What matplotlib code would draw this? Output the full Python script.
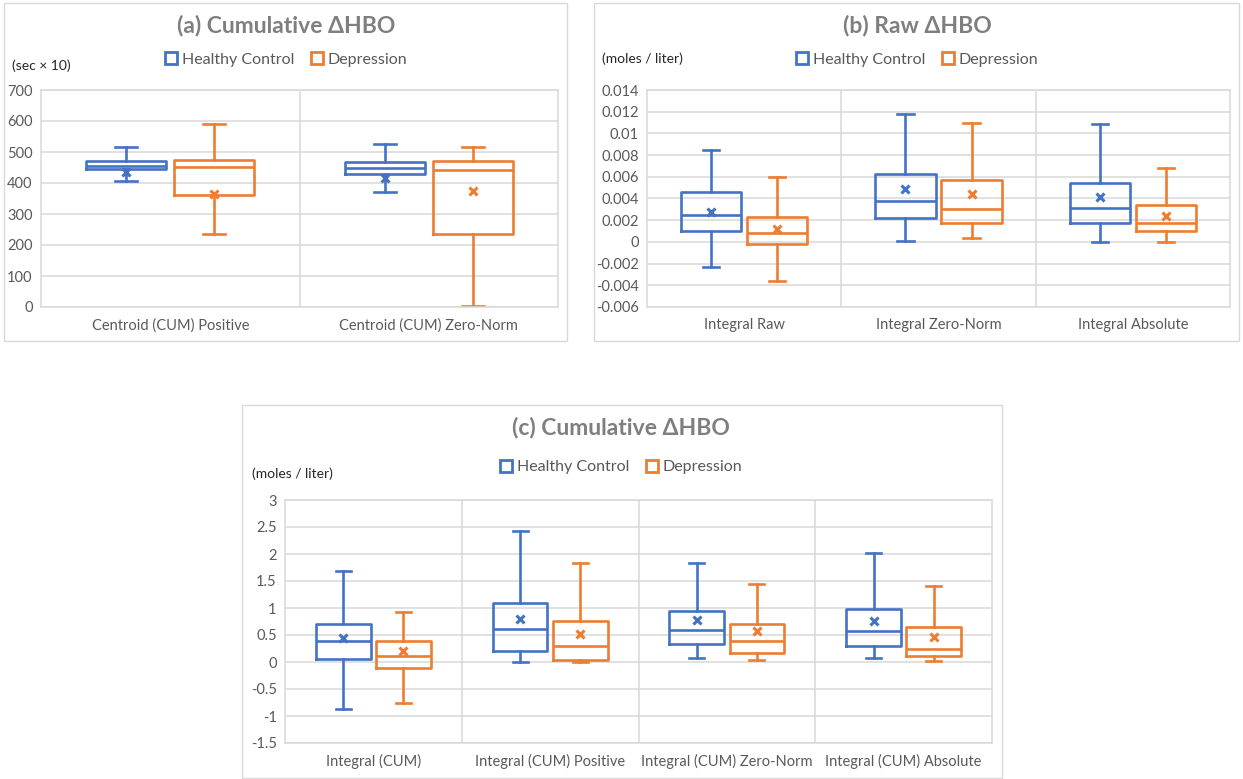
import matplotlib
matplotlib.use("Agg")
import matplotlib.pyplot as plt
from matplotlib.patches import Rectangle
from matplotlib.lines import Line2D

W, H = 1243, 779
BLUE = "#4472C4"
ORANGE = "#ED7D31"
GRID = "#D9D9D9"
TXT = "#595959"
TITLE = "#7F7F7F"

plt.rcParams['font.family'] = ['Lato', 'DejaVu Sans']

# (a) cumulative centroid, sec x 10
a_cats = ["Centroid (CUM) Positive", "Centroid (CUM) Zero-Norm"]
a_hc_low = [405, 372]
a_hc_q1 = [445, 430]
a_hc_med = [455, 450]
a_hc_q3 = [470, 467]
a_hc_high = [515, 525]
a_hc_mean = [435, 415]
a_dep_low = [237, 2]
a_dep_q1 = [360, 237]
a_dep_med = [452, 443]
a_dep_q3 = [473, 470]
a_dep_high = [590, 515]
a_dep_mean = [365, 375]
a_ticks = [0, 100, 200, 300, 400, 500, 600, 700]

# (b) raw integrals, moles / liter
b_cats = ["Integral Raw", "Integral Zero-Norm", "Integral Absolute"]
b_hc_low = [-0.0023, 0.0001, 0.0]
b_hc_q1 = [0.0010, 0.0022, 0.0017]
b_hc_med = [0.0025, 0.0038, 0.0031]
b_hc_q3 = [0.0046, 0.0063, 0.0054]
b_hc_high = [0.0085, 0.0118, 0.0109]
b_hc_mean = [0.0028, 0.0049, 0.0041]
b_dep_low = [-0.0036, 0.0004, 0.0]
b_dep_q1 = [-0.0002, 0.0017, 0.0010]
b_dep_med = [0.0008, 0.0030, 0.0017]
b_dep_q3 = [0.0023, 0.0057, 0.0034]
b_dep_high = [0.0060, 0.0110, 0.0068]
b_dep_mean = [0.0012, 0.0044, 0.0024]
b_ticks = [-0.006, -0.004, -0.002, 0, 0.002, 0.004, 0.006, 0.008, 0.01, 0.012, 0.014]

# (c) cumulative integrals, moles / liter
c_cats = ["Integral (CUM)", "Integral (CUM) Positive",
          "Integral (CUM) Zero-Norm", "Integral (CUM) Absolute"]
c_hc_low = [-0.87, 0.0, 0.07, 0.07]
c_hc_q1 = [0.06, 0.20, 0.33, 0.30]
c_hc_med = [0.38, 0.62, 0.59, 0.57]
c_hc_q3 = [0.71, 1.10, 0.94, 0.99]
c_hc_high = [1.69, 2.43, 1.84, 2.02]
c_hc_mean = [0.44, 0.80, 0.78, 0.76]
c_dep_low = [-0.75, 0.0, 0.03, 0.01]
c_dep_q1 = [-0.11, 0.04, 0.17, 0.11]
c_dep_med = [0.11, 0.29, 0.38, 0.25]
c_dep_q3 = [0.39, 0.76, 0.70, 0.65]
c_dep_high = [0.92, 1.83, 1.45, 1.41]
c_dep_mean = [0.20, 0.52, 0.57, 0.46]
c_ticks = [-1.5, -1, -0.5, 0, 0.5, 1, 1.5, 2, 2.5, 3]


def stats(low, q1, med, q3, high, mean):
    return [dict(whislo=l, q1=a, med=m, q3=b, whishi=h, mean=mu, fliers=[])
            for l, a, m, b, h, mu in zip(low, q1, med, q3, high, mean)]


def px_axes(x0, y0, x1, y1):
    return fig.add_axes([x0 / W, 1 - y1 / H, (x1 - x0) / W, (y1 - y0) / H])


def draw_box(ax, st, pos, color):
    ax.bxp(st, positions=pos, widths=0.31, capwidths=0.085, showmeans=True,
           boxprops=dict(color=color, linewidth=1.9),
           medianprops=dict(color=color, linewidth=1.9),
           whiskerprops=dict(color=color, linewidth=1.9),
           capprops=dict(color=color, linewidth=1.9),
           meanprops=dict(marker="x", markeredgecolor=color, markersize=6,
                          markeredgewidth=2.2))


def panel(ax, cats, hc, dep, ticks):
    n = len(cats)
    draw_box(ax, hc, [i - 0.17 for i in range(n)], BLUE)
    draw_box(ax, dep, [i + 0.17 for i in range(n)], ORANGE)
    ax.set_xlim(-0.5, n - 0.5)
    ax.set_ylim(ticks[0], ticks[-1])
    ax.set_yticks(ticks)
    ax.set_yticklabels([f"{t:g}" for t in ticks])
    ax.set_xticks(range(n))
    ax.set_xticklabels(cats)
    for t in ticks:
        ax.axhline(t, color=GRID, lw=1.1, zorder=0)
    for i in range(n - 1):
        ax.axvline(i + 0.5, color=GRID, lw=1.1, zorder=0)
    for s in ax.spines.values():
        s.set_color(GRID)
        s.set_linewidth(1.1)
    ax.tick_params(length=0, colors=TXT, labelsize=10.5)
    ax.tick_params(axis="x", pad=8)
    ax.tick_params(axis="y", pad=6)


def frame(x0, y0, x1, y1):
    fig.add_artist(Rectangle((x0 / W, 1 - y1 / H), (x1 - x0) / W, (y1 - y0) / H,
                             transform=fig.transFigure, fill=False,
                             edgecolor=GRID, linewidth=1.0))


def header(title, tx, ty, unit, ux, uy, ly):
    fig.text(tx / W, 1 - ty / H, title, ha="center", va="center",
             fontsize=16.5, fontweight="bold", color=TITLE)
    fig.text(ux / W, 1 - uy / H, unit, ha="left", va="center",
             fontsize=10, color="#262626")
    handles = [Line2D([], [], marker="s", ls="none", markersize=9,
                      markerfacecolor="white", markeredgecolor=c,
                      markeredgewidth=2) for c in (BLUE, ORANGE)]
    fig.legend(handles, ["Healthy Control", "Depression"], loc="center",
               bbox_to_anchor=(tx / W, 1 - ly / H), ncol=2, frameon=False,
               fontsize=11.5, labelcolor=TXT, handlelength=0.8,
               handletextpad=0.3, columnspacing=1.0)


fig = plt.figure(figsize=(W / 100, H / 100), dpi=100)

frame(4, 3, 567, 341)
frame(594, 3, 1239, 341)
frame(242, 405, 1002, 778)

ax_a = px_axes(41, 90, 558, 307)
panel(ax_a, a_cats,
      stats(a_hc_low, a_hc_q1, a_hc_med, a_hc_q3, a_hc_high, a_hc_mean),
      stats(a_dep_low, a_dep_q1, a_dep_med, a_dep_q3, a_dep_high, a_dep_mean),
      a_ticks)
header("(a) Cumulative ΔHBO", 286, 25, "(sec × 10)", 12, 66, 60)

ax_b = px_axes(647, 90, 1230, 307)
panel(ax_b, b_cats,
      stats(b_hc_low, b_hc_q1, b_hc_med, b_hc_q3, b_hc_high, b_hc_mean),
      stats(b_dep_low, b_dep_q1, b_dep_med, b_dep_q3, b_dep_high, b_dep_mean),
      b_ticks)
header("(b) Raw ΔHBO", 917, 25, "(moles / liter)", 602, 59, 60)

ax_c = px_axes(285, 500, 992, 743)
panel(ax_c, c_cats,
      stats(c_hc_low, c_hc_q1, c_hc_med, c_hc_q3, c_hc_high, c_hc_mean),
      stats(c_dep_low, c_dep_q1, c_dep_med, c_dep_q3, c_dep_high, c_dep_mean),
      c_ticks)
header("(c) Cumulative ΔHBO", 621, 428, "(moles / liter)", 252, 474, 467)

fig.savefig("out.png", dpi=100)
